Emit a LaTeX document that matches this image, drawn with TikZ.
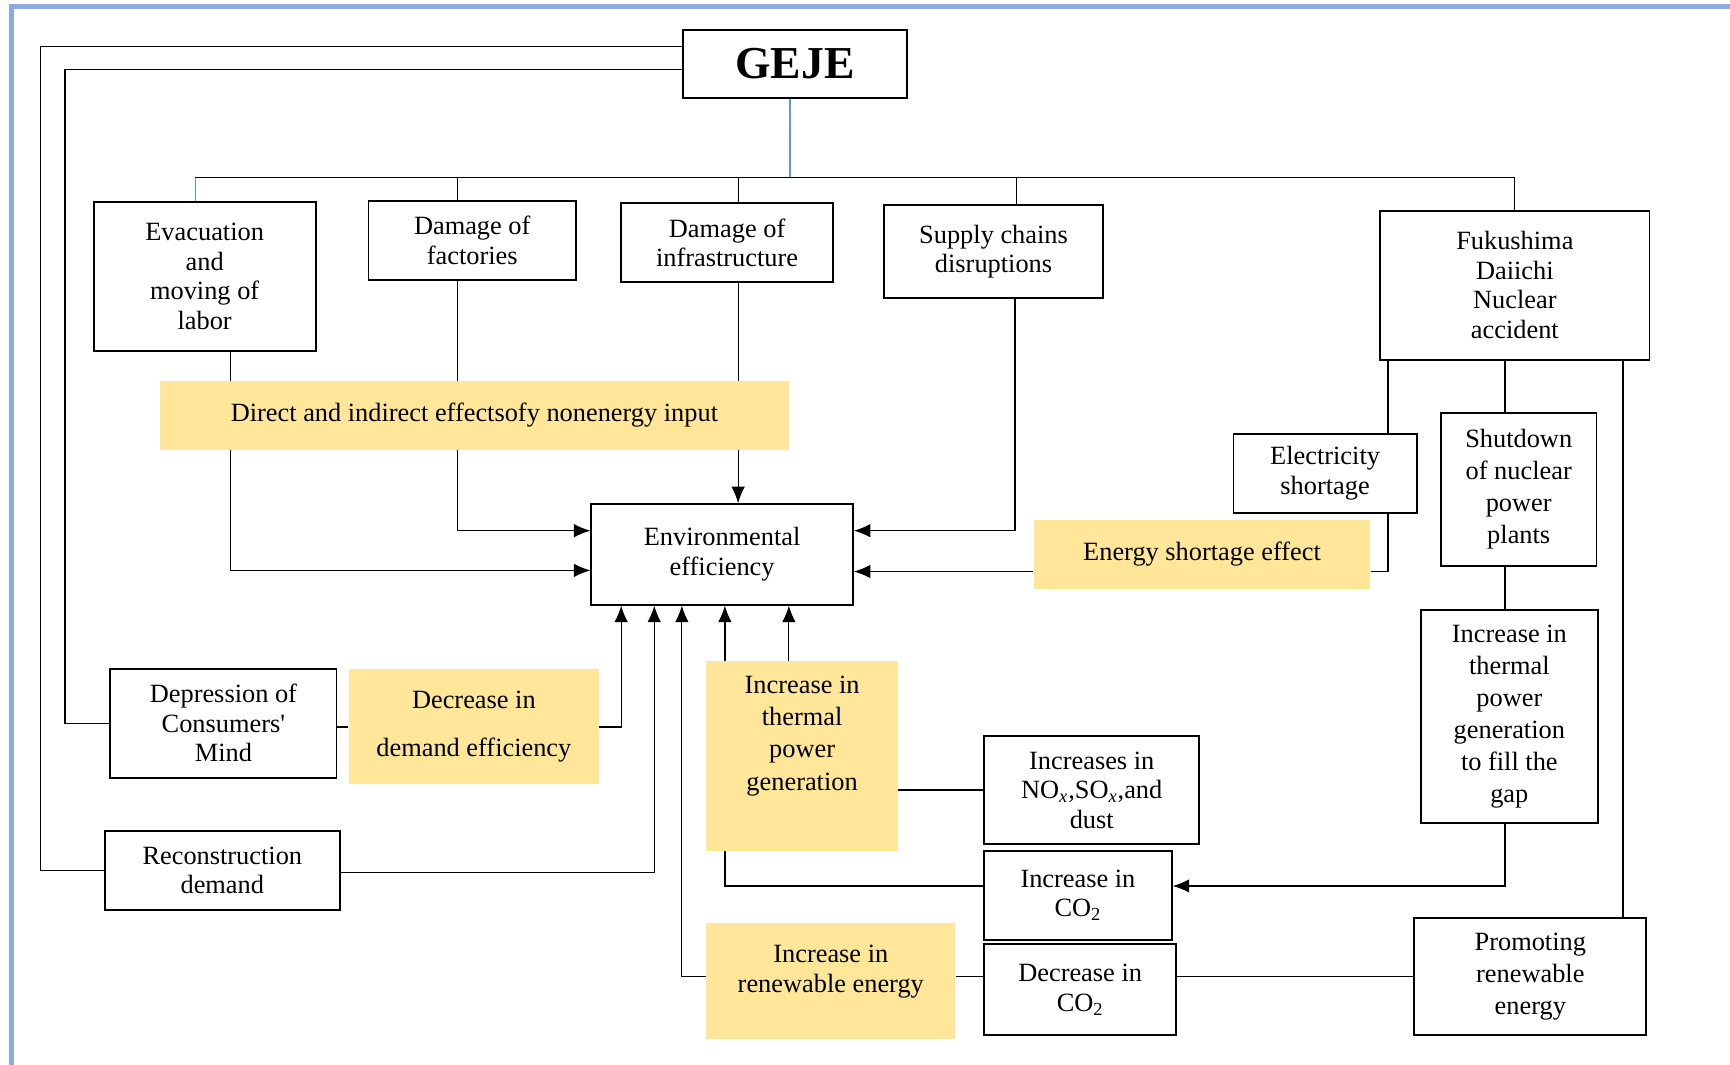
\documentclass[tikz,border=0pt]{standalone}
\usepackage{fontspec}
\setmainfont{Liberation Serif}
\usetikzlibrary{arrows.meta,backgrounds}

\newcommand{\px}{0.022066cm}
\definecolor{frameblue}{HTML}{8FAADC}
\definecolor{linkblue}{HTML}{5B9BD5}
\definecolor{effyellow}{HTML}{FFE699}

\begin{document}
\begin{tikzpicture}[x=\px, y=-\px,
  box/.style={draw, line width=1.1pt, fill=white, align=center, inner sep=1pt,
    font=\fontsize{15}{16.8}\selectfont},
  tallbox/.style={box, font=\fontsize{15}{18.3}\selectfont},
  effect/.style={fill=effyellow, align=center, inner sep=1pt,
    font=\fontsize{15}{16.8}\selectfont},
  wh/.style 2 args={minimum width=#1*\px, minimum height=#2*\px},
  link/.style={line width=0.7pt},
  bluelink/.style={link, draw=linkblue},
  arrow/.style={link, -{Latex[length=3.3mm, width=2.7mm]}}]

\useasboundingbox (0,0) rectangle (1568,965);

% top:
\node[box, wh={203}{62}, font=\fontsize{26}{30}\selectfont\bfseries] (geje) at (720.5,58) {GEJE};

% first row:
\node[box, wh={201}{135}] (evac) at (185.5,250.5) {Evacuation\\and\\moving of\\labor};
\node[box, wh={188}{72}] (fact) at (428,218) {Damage of\\factories};
\node[box, wh={192}{72}] (infra) at (659,220) {Damage of\\infrastructure};
\node[box, wh={199}{84}] (supply) at (900.5,228) {Supply chains\\disruptions};
\node[box, wh={244}{135}] (fuku) at (1373,258.5) {Fukushima\\Daiichi\\Nuclear\\accident};

% middle:
\node[effect, wh={570}{63}] (direct) at (430,376.5) {Direct and indirect effectsofy nonenergy input};
\node[box, wh={237}{91}] (env) at (654.5,502.5) {Environmental\\efficiency};
\node[effect, wh={305}{63}] (energy) at (1089.5,502.5) {Energy shortage effect};
\node[box, wh={166}{72}] (elec) at (1201,429) {Electricity\\shortage};
\node[tallbox, wh={141}{139}] (shut) at (1376.5,443.5) {Shutdown\\of nuclear\\power\\plants};
\node[tallbox, wh={160}{193}] (gap) at (1368,649.5) {Increase in\\thermal\\power\\generation\\to fill the\\gap};

% lower left:
\node[box, wh={205}{99}] (depr) at (202.5,655.5) {Depression of\\Consumers\textquotesingle\\Mind};
\node[effect, wh={227}{105}] (demand) at (429.5,658.5) {Decrease in\\[0.38cm]demand efficiency};
\node[box, wh={213}{72}] (recon) at (201.5,789) {Reconstruction\\demand};

% lower right:
\node[effect, wh={174}{172}] (thermal) at (727,685) {};
\node[effect, font=\fontsize{15}{18.3}\selectfont] (thermaltext) at (727,667) {Increase in\\thermal\\power\\generation};
\node[effect, wh={226}{105}] (renew) at (753,889.5) {};
\node[effect] (renewtext) at (753,880.5) {Increase in\\renewable energy};
\node[box, wh={195}{98}] (nox) at (989.5,716) {Increases in\\NO\textsubscript{\itshape x},SO\textsubscript{\itshape x},and\\dust};
\node[box, wh={170}{81}] (ico2) at (977,811.5) {Increase in\\CO\textsubscript{2}};
\node[box, wh={174}{82}] (dco2) at (979,897) {Decrease in\\CO\textsubscript{2}};
\node[tallbox, wh={210}{106}] (promo) at (1387,885) {Promoting\\renewable\\energy};

\begin{scope}[on background layer]
% frame:
\draw[frameblue, line width=2.5pt] (10.5,965) -- (10.5,6) -- (1568,6);

% from GEJE:
\draw[bluelink] (716,0 |- geje.south) -- (716,161);
\draw[link] (177,161) -- (1373,161);
\draw[bluelink] (177,161) -- (177,0 |- evac.north);
\draw[link] (415,161) -- (415,0 |- fact.north);
\draw[link] (669,161) -- (669,0 |- infra.north);
\draw[link] (921,161) -- (921,0 |- supply.north);
\draw[link] (1373,161) -- (fuku.north);
\draw[link] (geje.west |- 0,42) -- (37,42) |- (recon.west);
\draw[link] (geje.west |- 0,63) -- (59,63) |- (depr.west);

% into environmental efficiency:
\draw[arrow] (209,0 |- evac.south) |- (env.west |- 0,517);
\draw[arrow] (415,0 |- fact.south) |- (env.west |- 0,481);
\draw[arrow] (669,0 |- infra.south) -- (669,0 |- env.north);
\draw[arrow] (920,0 |- supply.south) |- (env.east |- 0,481);
\draw[arrow] (energy.west |- 0,518) -- (env.east |- 0,518);
\draw[link] (1258,0 |- fuku.south) |- (energy.east |- 0,518);
\draw[link] (depr.east |- 0,659) -- (demand.west |- 0,659);
\draw[arrow] (demand.east |- 0,659) -| (563,0 |- env.south);
\draw[arrow] (recon.east |- 0,791) -| (593,0 |- env.south);
\draw[arrow] (renew.west |- 0,885) -| (618,0 |- env.south);
\draw[arrow] (ico2.west |- 0,803) -| (657,0 |- env.south);
\draw[arrow] (715,0 |- thermal.north) -- (715,0 |- env.south);

% right side:
\draw[link] (1364,0 |- fuku.south) -- (1364,0 |- shut.north);
\draw[link] (1364,0 |- shut.south) -- (1364,0 |- gap.north);
\draw[arrow] (1364,0 |- gap.south) |- (ico2.east |- 0,803);
\draw[link] (1471,0 |- fuku.south) -- (1471,0 |- promo.north);
\draw[link] (promo.west) -- (dco2.east |- promo.west);
\draw[link] (dco2.west |- promo.west) -- (renew.east |- promo.west);
\draw[link] (nox.west) -- (thermal.east |- nox.west);
\end{scope}

\end{tikzpicture}
\end{document}
